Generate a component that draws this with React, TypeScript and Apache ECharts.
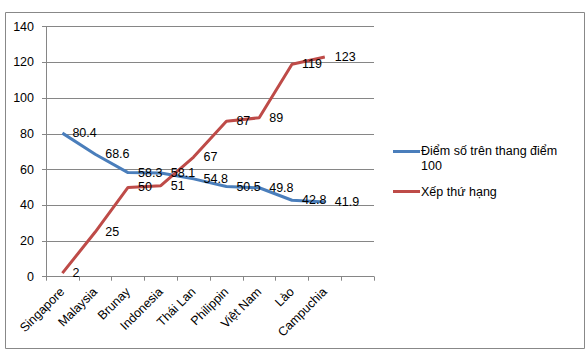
import React, { useEffect, useRef } from "react";
import * as echarts from "echarts";

const categories = ["Singapore", "Malaysia", "Brunay", "Indonesia", "Thái Lan", "Philippin", "Việt Nam", "Lào", "Campuchia", ""];
const scoreValues = [80.4, 68.6, 58.3, 58.1, 54.8, 50.5, 49.8, 42.8, 41.9];
const rankValues = [2, 25, 50, 51, 67, 87, 89, 119, 123];
const seriesNames = ["Điểm số trên thang điểm 100", "Xếp thứ hạng"];
const legendLabels = ["Điểm số trên thang điểm\n100", "Xếp thứ hạng"];

const FONT = "'Liberation Sans', Arial, sans-serif";
const BLUE = "#4A7EBB";
const RED = "#BE4B48";

export default function App() {
  const ref = useRef<HTMLDivElement>(null);
  useEffect(() => {
    if (!ref.current) return;
    const chart = echarts.init(ref.current, undefined, { renderer: "svg" });
    const labelCfg = {
      show: true,
      position: "right",
      distance: 10,
      color: "#000",
      fontSize: 12.5,
      fontFamily: FONT,
    };
    chart.setOption({
      animation: false,
      backgroundColor: "#fff",
      grid: { left: 46, top: 26.7, right: 212, bottom: 80.3, containLabel: false },
      xAxis: {
        type: "category",
        data: categories,
        boundaryGap: true,
        axisLine: { lineStyle: { color: "#868686", width: 1 } },
        axisTick: { show: true, length: 4, lineStyle: { color: "#868686" }, alignWithLabel: false },
        axisLabel: { rotate: 45, margin: 13, color: "#000", fontSize: 12.5, fontFamily: FONT, interval: 0 },
        splitLine: { show: false },
      },
      yAxis: {
        type: "value",
        min: 0,
        max: 140,
        interval: 20,
        axisLine: { show: true, lineStyle: { color: "#868686", width: 1 } },
        axisTick: { show: true, length: 4, inside: false, lineStyle: { color: "#868686" } },
        axisLabel: { margin: 12, color: "#000", fontSize: 12.5, fontFamily: FONT },
        splitLine: { show: true, lineStyle: { color: "#868686", width: 1 } },
      },
      series: [
        {
          name: seriesNames[0],
          type: "line",
          data: scoreValues,
          symbol: "circle",
          symbolSize: 0,
          showSymbol: true,
          itemStyle: { color: "rgba(0,0,0,0)" },
          lineStyle: { color: BLUE, width: 3 },
          label: labelCfg,
          z: 3,
        },
        {
          name: seriesNames[1],
          type: "line",
          data: rankValues,
          symbol: "circle",
          symbolSize: 0,
          showSymbol: true,
          itemStyle: { color: "rgba(0,0,0,0)" },
          lineStyle: { color: RED, width: 3 },
          label: labelCfg,
          z: 3,
        },
      ],
      graphic: [
        {
          type: "rect",
          shape: { x: 5.5, y: 12.5, width: 579, height: 336 },
          style: { fill: "none", stroke: "#888", lineWidth: 1 },
          silent: true,
          z: -10,
        },
        {
          type: "line",
          shape: { x1: 393, y1: 151.5, x2: 420, y2: 151.5 },
          style: { stroke: BLUE, lineWidth: 3 },
        },
        {
          type: "text",
          x: 421,
          y: 143,
          style: { text: legendLabels[0], fill: "#000", font: `12.5px ${FONT}`, lineHeight: 15, verticalAlign: "top" },
        },
        {
          type: "line",
          shape: { x1: 393, y1: 191.5, x2: 420, y2: 191.5 },
          style: { stroke: RED, lineWidth: 3 },
        },
        {
          type: "text",
          x: 421,
          y: 184,
          style: { text: legendLabels[1], fill: "#000", font: `12.5px ${FONT}`, lineHeight: 15, verticalAlign: "top" },
        },
      ],
    });
    return () => chart.dispose();
  }, []);
  return (
    <div
      ref={ref}
      style={{ position: "fixed", left: 0, top: 0, width: 586, height: 357 }}
    />
  );
}
